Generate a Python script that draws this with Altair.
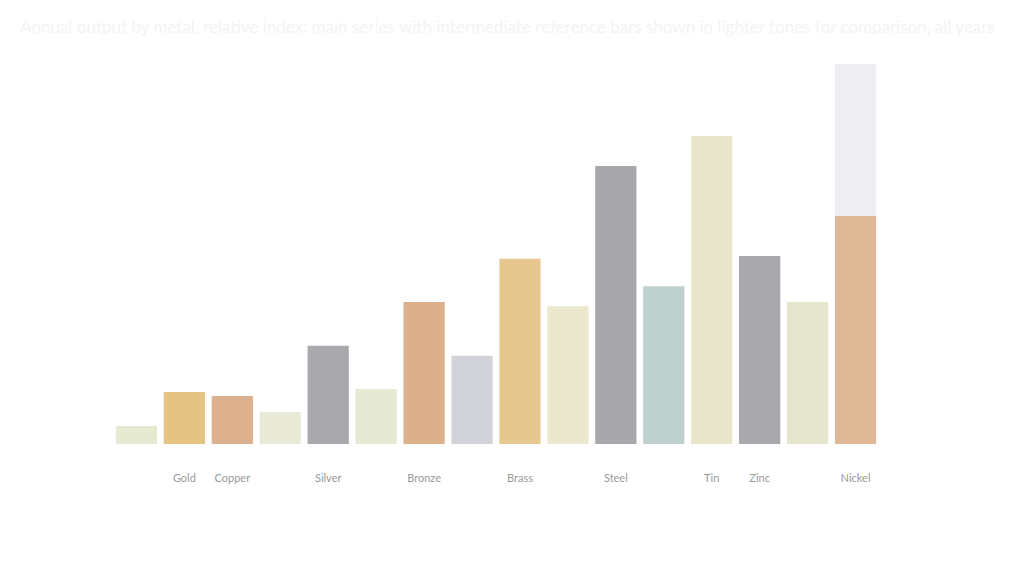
import altair as alt
import pandas as pd

# --- data ---
slots = list(range(16))
labels = ["", "Gold", "Copper", "", "Silver", "", "Bronze", "", "Brass",
          "", "Steel", "", "Tin", "Zinc", "", "Nickel"]
values = [4.7, 13.5, 12.5, 8.3, 25.5, 14.3, 36.9, 22.9, 48.1,
          35.8, 72.2, 41.0, 80.0, 48.8, 36.9, 59.2]
extra = [0, 0, 0, 0, 0, 0, 0, 0, 0, 0, 0, 0, 0, 0, 0, 39.5]

palette = ["#e7ead3", "#e4c383", "#ddb08e", "#e9ebd8", "#a9a9ad", "#e6e9d3",
           "#dcb08b", "#d2d2d9", "#e6c78f", "#ece7cf", "#a8a8ac", "#bed1ce",
           "#e8e5ca", "#a9a9ad", "#e6e6cf", "#dfb997"]

title_text = ("Annual output by metal, relative index: main series with intermediate "
              "reference bars shown in lighter tones for comparison, all years")

df = pd.DataFrame({"slot": slots, "value": values,
                   "top": [v + e for v, e in zip(values, extra)],
                   "extra": extra})

label_expr = " : ".join(
    f"datum.value == {i} ? '{l}'" for i, l in enumerate(labels) if l
) + " : ''"

x = alt.X("slot:O", title=None,
          scale=alt.Scale(paddingInner=0.14, paddingOuter=0.08),
          axis=alt.Axis(labelExpr=label_expr, labelAngle=0,
                        domain=False, ticks=False, labelPadding=28,
                        labelColor="#999999", labelFontSize=11,
                        labelFont="Lato"))
yscale = alt.Scale(domain=[0, 100], nice=False)

base = alt.Chart(df)

top = base.mark_bar(color="#eeeef2").encode(
    x=x,
    y=alt.Y("top:Q", scale=yscale, axis=None),
    y2="value:Q",
)

bars = base.mark_bar().encode(
    x=x,
    y=alt.Y("value:Q", scale=yscale, axis=None),
    color=alt.Color("slot:O", scale=alt.Scale(domain=slots, range=palette), legend=None),
)

chart = alt.layer(top, bars).properties(
    width=768, height=385,
    title=alt.TitleParams(title_text,
                          anchor="start", color="#f2f4f4", fontSize=17,
                          font="Lato", fontWeight="normal", offset=22, dx=-92),
).configure(padding={"left": 12, "top": 11, "right": 4, "bottom": 10}
).configure_view(stroke=None)

chart.save("out.html", embed_options={"renderer": "svg", "actions": False})
